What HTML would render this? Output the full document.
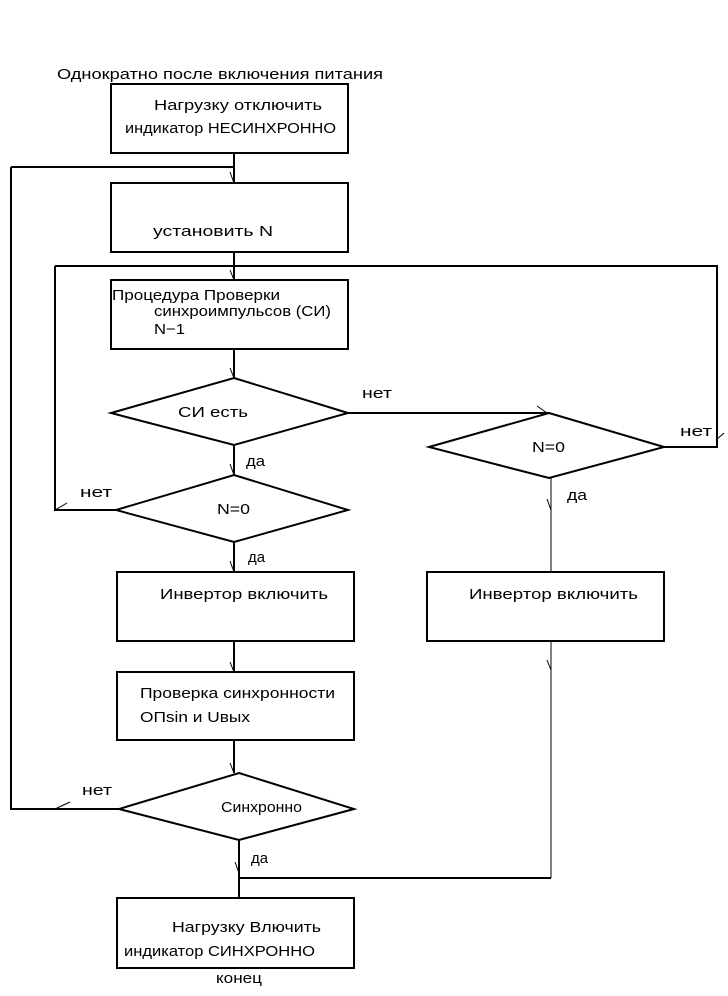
<!DOCTYPE html>
<html><head><meta charset="utf-8"><style>html,body{margin:0;padding:0;background:#fff}svg{display:block}</style></head><body>
<svg width="728" height="996" viewBox="0 0 728 996" xmlns="http://www.w3.org/2000/svg">
<g fill="none" stroke="#000" stroke-width="2">
<rect x="111" y="84" width="237" height="69"/>
<rect x="111" y="183" width="237" height="69"/>
<rect x="111" y="280" width="237" height="69"/>
<rect x="117" y="572" width="237" height="69"/>
<rect x="427" y="572" width="237" height="69"/>
<rect x="117" y="672" width="237" height="68"/>
<rect x="117" y="898" width="237" height="70"/>
<polygon points="234,378 348,413 234,445 111,413"/>
<polygon points="549,413 664,447 549,478 429,447"/>
<polygon points="234,475 348,510 234,542 116,510"/>
<polygon points="239,773 354,809 239,840 119,809"/>
<polyline points="234,153 234,183"/>
<polyline points="11,167 234,167"/>
<polyline points="11,167 11,809 119,809"/>
<polyline points="234,252 234,280"/>
<polyline points="55,266 717,266 717,447 664,447"/>
<polyline points="55,266 55,510 116,510"/>
<polyline points="234,349 234,378"/>
<polyline points="348,413 549,413"/>
<polyline points="234,445 234,475"/>
<polyline points="234,542 234,572"/>
<polyline points="234,641 234,672"/>
<polyline points="234,740 234,773"/>
<polyline points="239,840 239,898"/>
<polyline points="239,878 551,878"/>
<polyline points="551,478 551,572" stroke-width="1"/>
<polyline points="551,641 551,878" stroke-width="1"/>
</g>
<g fill="none" stroke="#000" stroke-width="1">
<path d="M230,172 L234,183"/><path d="M230,270 L234,280"/><path d="M230,368 L234,378"/>
<path d="M230,464 L234,475"/><path d="M230,561 L234,572"/><path d="M230,662 L234,672"/>
<path d="M230,763 L234,773"/><path d="M235,862 L239,873"/>
<path d="M537,406 L547,413"/><path d="M547,499 L551,510"/><path d="M547,660 L551,670"/>
<path d="M716,440 L724,433"/><path d="M55,510 L67,503"/><path d="M55,809 L70,802"/>
</g>
<g font-family="'Liberation Sans','DejaVu Sans',sans-serif" font-size="15" fill="#000" lengthAdjust="spacingAndGlyphs">
<text x="57" y="79" textLength="326" lengthAdjust="spacingAndGlyphs">Однократно после включения питания</text>
<text x="154" y="110" textLength="168" lengthAdjust="spacingAndGlyphs">Нагрузку отключить</text>
<text x="125" y="133" textLength="211" lengthAdjust="spacingAndGlyphs">индикатор НЕСИНХРОННО</text>
<text x="153" y="236" textLength="120" lengthAdjust="spacingAndGlyphs">установить N</text>
<text x="112" y="300" textLength="168" lengthAdjust="spacingAndGlyphs">Процедура Проверки</text>
<text x="154" y="316" textLength="177" lengthAdjust="spacingAndGlyphs">синхроимпульсов (СИ)</text>
<text x="154" y="334" textLength="31" lengthAdjust="spacingAndGlyphs">N−1</text>
<text x="178" y="417" textLength="70" lengthAdjust="spacingAndGlyphs">СИ есть</text>
<text x="362" y="398" textLength="30" lengthAdjust="spacingAndGlyphs">нет</text>
<text x="532" y="452" textLength="33" lengthAdjust="spacingAndGlyphs">N=0</text>
<text x="680" y="436" textLength="32" lengthAdjust="spacingAndGlyphs">нет</text>
<text x="246" y="466" textLength="19" lengthAdjust="spacingAndGlyphs">да</text>
<text x="80" y="497" textLength="32" lengthAdjust="spacingAndGlyphs">нет</text>
<text x="217" y="514" textLength="33" lengthAdjust="spacingAndGlyphs">N=0</text>
<text x="567" y="500" textLength="20" lengthAdjust="spacingAndGlyphs">да</text>
<text x="248" y="562" textLength="17" lengthAdjust="spacingAndGlyphs">да</text>
<text x="160" y="599" textLength="168" lengthAdjust="spacingAndGlyphs">Инвертор включить</text>
<text x="469" y="599" textLength="169" lengthAdjust="spacingAndGlyphs">Инвертор включить</text>
<text x="140" y="698" textLength="195" lengthAdjust="spacingAndGlyphs">Проверка синхронности</text>
<text x="140" y="722" textLength="110" lengthAdjust="spacingAndGlyphs">ОПsin и Uвых</text>
<text x="82" y="795" textLength="30" lengthAdjust="spacingAndGlyphs">нет</text>
<text x="221" y="812" textLength="81" lengthAdjust="spacingAndGlyphs">Синхронно</text>
<text x="251" y="863" textLength="17" lengthAdjust="spacingAndGlyphs">да</text>
<text x="172" y="932" textLength="149" lengthAdjust="spacingAndGlyphs">Нагрузку Влючить</text>
<text x="124" y="956" textLength="191" lengthAdjust="spacingAndGlyphs">индикатор СИНХРОННО</text>
<text x="216" y="983" textLength="46" lengthAdjust="spacingAndGlyphs">конец</text>
</g>
</svg>
</body></html>
